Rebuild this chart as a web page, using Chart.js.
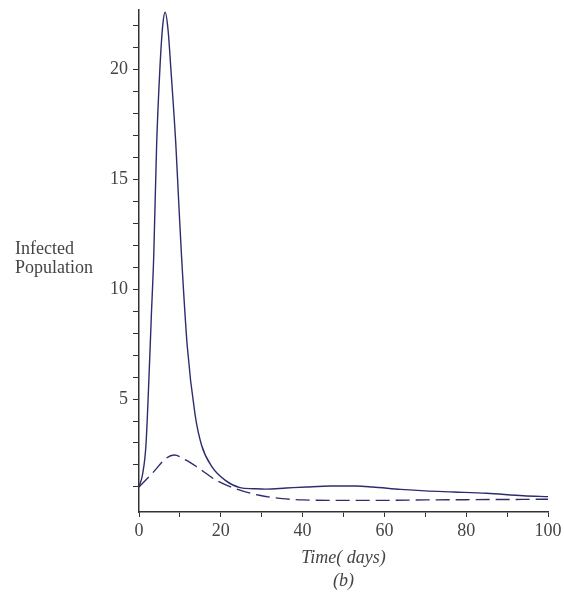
<!DOCTYPE html>
<html>
<head>
<meta charset="utf-8">
<script src="https://cdn.jsdelivr.net/npm/chart.js@4.4.0/dist/chart.umd.min.js"></script>
<style>
  html, body { margin: 0; padding: 0; background: #fff; }
  canvas { display: block; }
</style>
</head>
<body>
<canvas id="myChart" width="564" height="600"></canvas>
<script>
// time (days) and infected population
const tSolid = [0, 0.9, 1.7, 2.4, 3.0, 3.6, 4.3, 5.1, 5.8, 6.4, 7.1, 7.8, 9.0, 9.7, 10.4, 11.8, 13.7, 15.3, 17.9, 21.1, 24.7, 28, 31, 36, 41, 47, 53, 57, 64, 70, 77, 85, 94, 100];
const ySolid = [1.0, 1.6, 2.9, 5.8, 8.7, 11.5, 16.5, 20.0, 22.0, 22.6, 21.8, 20.0, 16.6, 14.0, 11.5, 7.4, 4.3, 2.9, 1.9, 1.3, 0.97, 0.92, 0.9, 0.95, 1.0, 1.04, 1.04, 1.0, 0.89, 0.82, 0.77, 0.71, 0.6, 0.56];

const tDashed = [0, 3.4, 6.6, 8.6, 11.5, 14.5, 18.9, 23.5, 29.4, 35, 40, 50, 60, 70, 80, 90, 100];
const yDashed = [1.0, 1.65, 2.3, 2.45, 2.22, 1.87, 1.3, 0.93, 0.62, 0.47, 0.41, 0.39, 0.39, 0.41, 0.42, 0.43, 0.44];

const xTicks = [0, 10, 20, 30, 40, 50, 60, 70, 80, 90, 100];
const yTicks = [1, 2, 3, 4, 5, 6, 7, 8, 9, 10, 11, 12, 13, 14, 15, 16, 17, 18, 19, 20, 21, 22];

const lineColor = '#2d2d6e';
const axisColor = '#333333';
const textColor = '#444444';
const serif = "'Liberation Serif', 'DejaVu Serif', serif";

function toPoints(xs, ys) {
  return xs.map((x, i) => ({ x: x, y: ys[i] }));
}

// extra labels: horizontal y title, x title and the panel tag
const textPlugin = {
  id: 'extraText',
  afterDraw(chart) {
    const ctx = chart.ctx;
    const area = chart.chartArea;
    const cx = (area.left + area.right) / 2;
    ctx.save();
    ctx.fillStyle = textColor;
    ctx.textBaseline = 'alphabetic';
    ctx.textAlign = 'left';
    ctx.font = '18px ' + serif;
    ctx.fillText('Infected', 15, 254);
    ctx.fillText('Population', 15, 273);
    ctx.textAlign = 'center';
    ctx.font = 'italic 18px ' + serif;
    ctx.fillText('Time( days)', cx, 563);
    ctx.fillText('(b)', cx, 586);
    ctx.restore();
  }
};

const ctx = document.getElementById('myChart');

new Chart(ctx, {
  type: 'line',
  data: {
    datasets: [
      {
        data: toPoints(tSolid, ySolid),
        borderColor: lineColor,
        borderWidth: 1.4,
        pointRadius: 0,
        fill: false,
        cubicInterpolationMode: 'monotone'
      },
      {
        data: toPoints(tDashed, yDashed),
        borderColor: lineColor,
        borderWidth: 1.4,
        borderDash: [14, 6],
        pointRadius: 0,
        fill: false,
        cubicInterpolationMode: 'monotone'
      }
    ]
  },
  options: {
    responsive: false,
    animation: false,
    layout: { padding: { top: 10, right: 16, left: 0, bottom: 0 } },
    plugins: {
      legend: { display: false },
      tooltip: { enabled: false }
    },
    scales: {
      x: {
        type: 'linear',
        min: 0,
        max: 100,
        afterBuildTicks: scale => { scale.ticks = xTicks.map(v => ({ value: v })); },
        afterFit: scale => {
          scale.height = 88;
          scale.paddingLeft = 0;
          scale.paddingRight = 0;
        },
        grid: { drawOnChartArea: false, tickLength: 5, color: axisColor },
        border: { display: true, color: axisColor, width: 1.5 },
        ticks: {
          autoSkip: false,
          maxRotation: 0,
          padding: 3,
          color: textColor,
          font: { family: serif, size: 18 },
          callback: v => (v % 20 === 0 ? v : '')
        }
      },
      y: {
        type: 'linear',
        min: -0.14,
        max: 22.7,
        afterBuildTicks: scale => { scale.ticks = yTicks.map(v => ({ value: v })); },
        afterFit: scale => {
          scale.width = 139;
          scale.paddingTop = 0;
          scale.paddingBottom = 0;
        },
        grid: { drawOnChartArea: false, tickLength: 6, color: axisColor },
        border: { display: true, color: axisColor, width: 1.5 },
        ticks: {
          autoSkip: false,
          padding: 5,
          color: textColor,
          font: { family: serif, size: 18 },
          callback: v => (v % 5 === 0 ? v : '')
        }
      }
    }
  },
  plugins: [textPlugin]
});
</script>
</body>
</html>
